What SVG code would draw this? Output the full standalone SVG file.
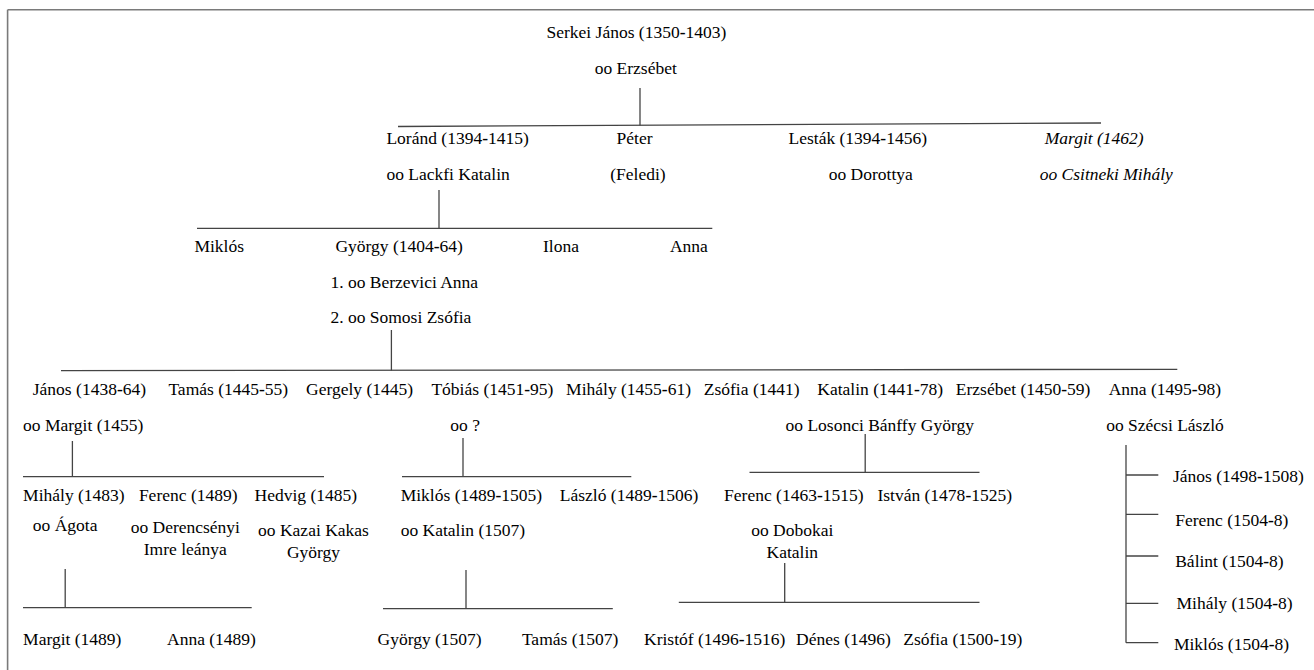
<svg xmlns="http://www.w3.org/2000/svg" width="1314" height="670" viewBox="0 0 1314 670">
<style>
text{font-family:"Liberation Serif","Times New Roman",serif;font-size:17.5px;fill:#000}
.i{font-style:italic}
.m{text-anchor:middle}
.h{font-weight:bold}
.c line{stroke:#444;stroke-width:1.3}
.frame{stroke:#7a7a7a;stroke-width:1.6}
</style>
<rect width="1314" height="670" fill="#fff"/>
<g id="frame" class="frame">
<line x1="7.6" y1="9.7" x2="1314" y2="9.7"/>
<line x1="7.6" y1="9.7" x2="7.6" y2="670"/>
</g>
<g id="connectors" class="c">
<line x1="640" y1="88" x2="640" y2="125.5"/>
<line x1="398" y1="126.5" x2="1101" y2="123"/>
<line x1="439" y1="190" x2="439" y2="228.3"/>
<line x1="197" y1="228.3" x2="712.3" y2="228.3"/>
<line x1="391.4" y1="330" x2="391.4" y2="370.5"/>
<line x1="61" y1="370.7" x2="1177.3" y2="369.3"/>
<line x1="72.4" y1="441" x2="72.4" y2="476.7"/>
<line x1="23" y1="476.7" x2="324" y2="476.7"/>
<line x1="463" y1="438" x2="463" y2="476.7"/>
<line x1="402" y1="476.7" x2="631.3" y2="476.7"/>
<line x1="865.2" y1="434" x2="865.2" y2="472.3"/>
<line x1="749.5" y1="472.3" x2="979.5" y2="472.3"/>
<line x1="65.2" y1="569" x2="65.2" y2="607.7"/>
<line x1="23" y1="607.7" x2="251.7" y2="607.7"/>
<line x1="466" y1="570" x2="466" y2="608.7"/>
<line x1="383" y1="608.7" x2="612.8" y2="608.7"/>
<line x1="784.7" y1="563" x2="784.7" y2="602.3"/>
<line x1="678.8" y1="602.3" x2="979.5" y2="602.3"/>
<line x1="1126" y1="445" x2="1126" y2="642.7"/>
<line x1="1126" y1="475" x2="1158.3" y2="475"/>
<line x1="1126" y1="514.3" x2="1158.3" y2="514.3"/>
<line x1="1126" y1="556" x2="1158.3" y2="556"/>
<line x1="1126" y1="603.3" x2="1158.3" y2="603.3"/>
<line x1="1126" y1="642.7" x2="1158.3" y2="642.7"/>
</g>
<g id="serkei-janos"><text x="546.5" y="38">Serkei János (1350<tspan class="h">-</tspan>1403)</text><text x="594.7" y="74">oo Erzsébet</text></g>
<g id="lorand"><text x="386.4" y="144.3">Loránd (1394<tspan class="h">-</tspan>1415)</text><text x="386.4" y="180">oo Lackfi Katalin</text></g>
<g id="peter"><text x="616.6" y="144.3">Péter</text><text x="610.3" y="180">(Feledi)</text></g>
<g id="lestak"><text x="788.5" y="144.3">Lesták (1394<tspan class="h">-</tspan>1456)</text><text x="828.7" y="180">oo Dorottya</text></g>
<g id="margit-1462"><text class="i" x="1044.7" y="144.3">Margit (1462)</text><text class="i" x="1039.7" y="180">oo Csitneki Mihály</text></g>
<g id="miklos-1"><text x="194.4" y="252">Miklós</text></g>
<g id="gyorgy-1404"><text x="335.4" y="252">György (1404<tspan class="h">-</tspan>64)</text><text x="330.4" y="287.7">1. oo Berzevici Anna</text><text x="330.4" y="322.7">2. oo Somosi Zsófia</text></g>
<g id="ilona"><text x="543" y="252">Ilona</text></g>
<g id="anna-1"><text x="669.9" y="252">Anna</text></g>
<g id="janos-1438"><text x="32.8" y="395.3">János (1438<tspan class="h">-</tspan>64)</text><text x="23.1" y="431">oo Margit (1455)</text></g>
<g id="tamas-1445"><text x="168.4" y="395.3">Tamás (1445<tspan class="h">-</tspan>55)</text></g>
<g id="gergely"><text x="306" y="395.3">Gergely (1445)</text></g>
<g id="tobias"><text x="431.4" y="395.3">Tóbiás (1451<tspan class="h">-</tspan>95)</text><text x="450.3" y="431">oo ?</text></g>
<g id="mihaly-1455"><text x="566.1" y="395.3">Mihály (1455<tspan class="h">-</tspan>61)</text></g>
<g id="zsofia-1441"><text x="703.8" y="395.3">Zsófia (1441)</text></g>
<g id="katalin-1441"><text x="817.3" y="395.3">Katalin (1441<tspan class="h">-</tspan>78)</text><text x="785.5" y="431">oo Losonci Bánffy György</text></g>
<g id="erzsebet-1450"><text x="955.8" y="395.3">Erzsébet (1450<tspan class="h">-</tspan>59)</text></g>
<g id="anna-1495"><text x="1108.7" y="395.3">Anna (1495<tspan class="h">-</tspan>98)</text><text x="1106.2" y="431">oo Szécsi László</text></g>
<g id="mihaly-1483"><text x="23.1" y="501.3">Mihály (1483)</text><text x="32.8" y="531">oo Ágota</text></g>
<g id="ferenc-1489"><text x="138.9" y="501.3">Ferenc (1489)</text><text class="m" x="185.3" y="533.3">oo Derencsényi</text><text class="m" x="185.3" y="555.3">Imre leánya</text></g>
<g id="hedvig"><text x="254.6" y="501.3">Hedvig (1485)</text><text class="m" x="313.5" y="536">oo Kazai Kakas</text><text class="m" x="313.5" y="558">György</text></g>
<g id="miklos-1489"><text x="400.7" y="501.3">Miklós (1489<tspan class="h">-</tspan>1505)</text><text x="400.7" y="536">oo Katalin (1507)</text></g>
<g id="laszlo-1489"><text x="559.8" y="501.3">László (1489<tspan class="h">-</tspan>1506)</text></g>
<g id="ferenc-1463"><text x="724.1" y="501.3">Ferenc (1463<tspan class="h">-</tspan>1515)</text><text class="m" x="792.3" y="536">oo Dobokai</text><text class="m" x="792.3" y="557.7">Katalin</text></g>
<g id="istvan"><text x="877.4" y="501.3">István (1478<tspan class="h">-</tspan>1525)</text></g>
<g id="margit-1489"><text x="23.1" y="645">Margit (1489)</text></g>
<g id="anna-1489"><text x="167" y="645">Anna (1489)</text></g>
<g id="gyorgy-1507"><text x="377.5" y="645">György (1507)</text></g>
<g id="tamas-1507"><text x="521.9" y="645">Tamás (1507)</text></g>
<g id="kristof"><text x="644" y="645">Kristóf (1496<tspan class="h">-</tspan>1516)</text></g>
<g id="denes"><text x="796.1" y="645">Dénes (1496)</text></g>
<g id="zsofia-1500"><text x="903.3" y="645">Zsófia (1500<tspan class="h">-</tspan>19)</text></g>
<g id="janos-1498"><text x="1173" y="482">János (1498<tspan class="h">-</tspan>1508)</text></g>
<g id="ferenc-1504"><text x="1175.2" y="526">Ferenc (1504<tspan class="h">-</tspan>8)</text></g>
<g id="balint"><text x="1175.2" y="567">Bálint (1504<tspan class="h">-</tspan>8)</text></g>
<g id="mihaly-1504"><text x="1176.5" y="609.3">Mihály (1504<tspan class="h">-</tspan>8)</text></g>
<g id="miklos-1504"><text x="1173.9" y="650">Miklós (1504<tspan class="h">-</tspan>8)</text></g>
</svg>
